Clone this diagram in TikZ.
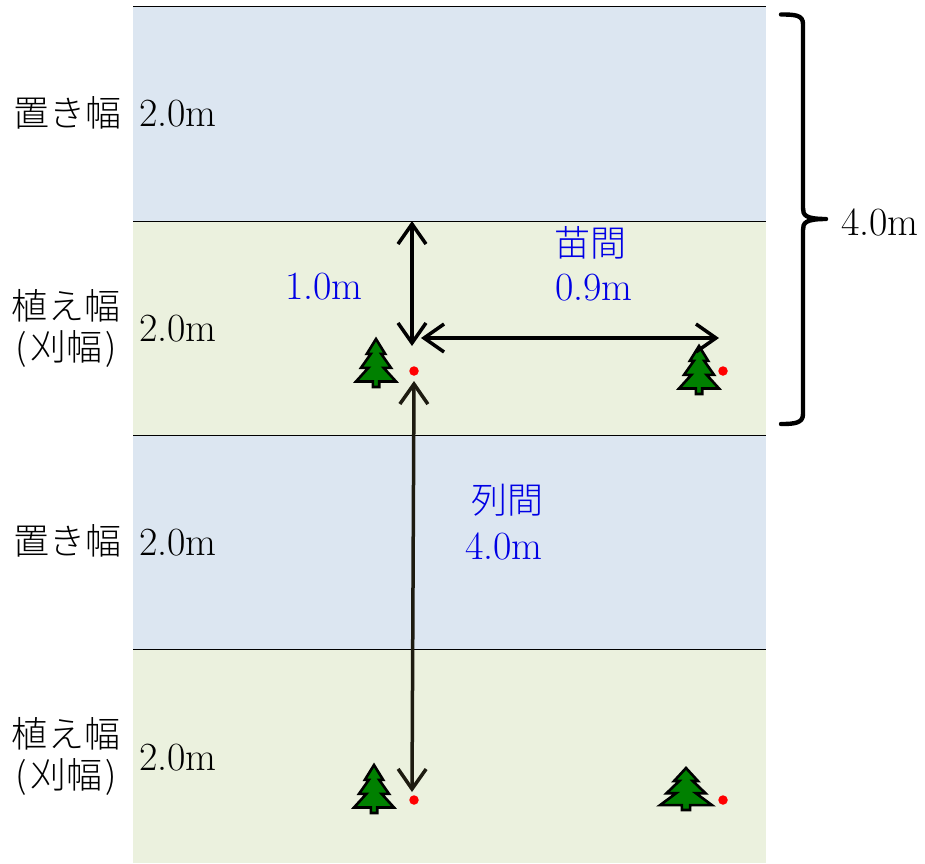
\documentclass[tikz,border=0pt]{standalone}
\usepackage{fontspec}
\usetikzlibrary{arrows.meta}
\newfontfamily\cjk{Noto Sans CJK JP Light}
\definecolor{bandblue}{HTML}{DCE6F1}
\definecolor{bandgreen}{HTML}{EBF1DE}
\definecolor{treegreen}{HTML}{008000}
\definecolor{arrowdark}{HTML}{1D1B10}
\newcommand{\treeshape}[5]{% name, cx, top, half width, height
  \begin{scope}[shift={(#2,#3)},x=#4pt,y=-#5pt]
    \draw[treestyle] (0,0) -- (.46,.31) -- (.26,.31) -- (.75,.6) -- (.38,.6) -- (1,.885) -- (.16,.885) -- (.16,1)
      -- (-.16,1) -- (-.16,.885) -- (-1,.885) -- (-.38,.6) -- (-.75,.6) -- (-.26,.31) -- (-.46,.31) -- cycle;
  \end{scope}
  \coordinate (#1) at (#2,#3);
}
\tikzset{
  x=1pt,y=-1pt,
  bandline/.style={draw=black,line width=.8pt},
  treestyle/.style={fill=treegreen,draw=black,line width=2.6pt,line join=miter,miter limit=5},
  reddot/.style={circle,fill=red,inner sep=0pt,minimum size=9.5pt},
  dim/.style={line width=3.5pt,{Straight Barb[length=20pt,width=28pt,line width=3.5pt]}-{Straight Barb[length=20pt,width=28pt,line width=3.5pt]},line cap=round},
  lat/.style={font=\fontsize{40}{40}\selectfont,text=black,inner sep=0pt},
  jp/.style={font=\fontsize{36}{36}\selectfont\cjk,text=black,inner sep=0pt},
  blat/.style={lat,text=blue!90!black},
  bjp/.style={jp,text=blue!90!black},
}
\begin{document}
\begin{tikzpicture}
\useasboundingbox (0,0) rectangle (925,863);
% bands
\fill[bandblue] (133,7) rectangle (766,221);
\fill[bandgreen] (133,221) rectangle (766,435);
\fill[bandblue] (133,435) rectangle (766,649);
\fill[bandgreen] (133,649) rectangle (766,863);
\foreach \yy in {6.5,221,435,649} \draw[bandline] (133,\yy) -- (766,\yy);
% left labels
\node[jp] (wa) at (67,113) {置き幅};
\node[jp] (wb) at (66,306) {植え幅};
\node[jp] (wc) at (66,349) {(\kern.1em 刈幅\kern.1em )};
\node[jp] (wd) at (67,541) {置き幅};
\node[jp] (we) at (66,734) {植え幅};
\node[jp] (wf) at (66,777) {(\kern.1em 刈幅\kern.1em )};
\node[lat] (da) at (178,114) {2.0m};
\node[lat] (db) at (178,329) {2.0m};
\node[lat] (dc) at (178,543) {2.0m};
\node[lat] (dd) at (178,758) {2.0m};
\node[lat] (total) at (880,222) {4.0m};
% blue labels
\node[blat] (ha) at (324,287) {1.0m};
\node[bjp] (nb) at (590,243) {苗間};
\node[blat] (nc) at (594,288) {0.9m};
\node[bjp] (ra) at (507,500) {列間};
\node[blat] (rb) at (504,546) {4.0m};
% trees
\treeshape{ta}{376}{339}{20}{48}
\treeshape{tb}{699}{346}{20}{48}
\treeshape{tc}{374}{765}{20}{48}
\treeshape{td}{686}{768}{26}{42}
% red dots
\node[reddot] (pa) at (414,371) {};
\node[reddot] (pb) at (723,371) {};
\node[reddot] (pc) at (414,800) {};
\node[reddot] (pd) at (723,800) {};
% arrows
\coordinate (vt) at (412,221);
\coordinate (vb) at (412,346);
\coordinate (hl) at (421,338);
\coordinate (hr) at (719,338);
\coordinate (lt) at (414,381);
\coordinate (lb) at (412,792);
\draw[dim] (vt) -- (vb);
\draw[dim] (hl) -- (hr);
\draw[dim,draw=arrowdark] (lt) -- (lb);
% brace
\coordinate (bt) at (781,14.5);
\coordinate (bb) at (781,424);
\coordinate (bm) at (826,219);
\draw[line width=4.4pt,line cap=round,line join=round]
  (bt) .. controls (795,14.5) and (803,15) .. (803,24) -- (803,208)
  .. controls (803,215) and (805,219) .. (bm)
  .. controls (805,219) and (803,223) .. (803,230) -- (803,414)
  .. controls (803,423) and (795,424) .. (bb);
\end{tikzpicture}
\end{document}
